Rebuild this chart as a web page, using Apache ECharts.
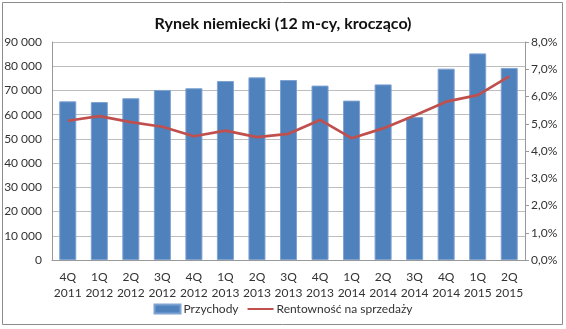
<!DOCTYPE html>
<html>
<head>
<meta charset="utf-8">
<script src="https://cdn.jsdelivr.net/npm/echarts@6/dist/echarts.min.js"></script>
<style>
  html, body { margin: 0; padding: 0; background: #fff; }
  #chart { width: 566px; height: 329px; }
</style>
</head>
<body>
<div id="chart"></div>
<script>
// Quarterly categories (two-line labels)
const categories = [
  '4Q\n2011', '1Q\n2012', '2Q\n2012', '3Q\n2012', '4Q\n2012',
  '1Q\n2013', '2Q\n2013', '3Q\n2013', '4Q\n2013', '1Q\n2014',
  '2Q\n2014', '3Q\n2014', '4Q\n2014', '1Q\n2015', '2Q\n2015'
];
// Revenue, rolling 12 months
const revenue = [
  65500, 65200, 66800, 70200, 70900,
  73900, 75400, 74300, 72000, 65800,
  72500, 59000, 79000, 85300, 79300
];
// Return on sales, %
const margin = [
  5.11, 5.28, 5.06, 4.89, 4.54,
  4.75, 4.51, 4.63, 5.14, 4.47,
  4.83, 5.30, 5.81, 6.05, 6.74
];
const seriesNames = ['Przychody', 'Rentowność na sprzedaży'];
const titleText = 'Rynek niemiecki (12 m-cy, krocząco)';

const font = 'Lato, "Open Sans", sans-serif';
const chart = echarts.init(document.getElementById('chart'));

const fmtThousands = v => String(v).replace(/\B(?=(\d{3})+(?!\d))/g, ' ');
const fmtPct = v => v.toFixed(1).replace('.', ',') + '%';

chart.setOption({
  animation: false,
  textStyle: { fontFamily: font },
  title: {
    text: titleText,
    left: 'center',
    top: 11,
    textStyle: { fontFamily: font, fontSize: 16, fontWeight: 'bold', color: '#111' }
  },
  graphic: [{
    type: 'rect',
    shape: { x: 2.5, y: 2.5, width: 560, height: 322 },
    style: { fill: 'none', stroke: '#8c8c8c', lineWidth: 1 },
    silent: true
  }],
  legend: {
    bottom: 9,
    left: 'center',
    itemGap: 8,
    itemWidth: 26,
    itemHeight: 9,
    textStyle: { fontFamily: font, fontSize: 12, color: '#333', padding: [0, 0, 0, -2] },
    data: [
      { name: seriesNames[0], icon: 'rect' },
      { name: seriesNames[1], itemStyle: { opacity: 0 } }
    ]
  },
  grid: { left: 52, right: 41, top: 42, bottom: 69 },
  xAxis: {
    type: 'category',
    data: categories,
    axisLine: { lineStyle: { color: '#999' } },
    axisTick: { show: false },
    axisLabel: { color: '#333', fontSize: 12, lineHeight: 16, margin: 9, interval: 0 }
  },
  yAxis: [{
    type: 'value',
    min: 0, max: 90000, interval: 10000,
    axisLine: { show: true, lineStyle: { color: '#999' } },
    axisTick: { show: false },
    splitLine: { lineStyle: { color: '#bdbdbd' } },
    axisLabel: { color: '#333', fontSize: 12, margin: 10, formatter: fmtThousands }
  }, {
    type: 'value',
    min: 0, max: 8, interval: 1,
    position: 'right',
    axisLine: { show: true, lineStyle: { color: '#999' } },
    axisTick: { show: true, length: 4, inside: false, lineStyle: { color: '#999' } },
    splitLine: { show: false },
    axisLabel: { color: '#333', fontSize: 12, margin: 6, formatter: fmtPct }
  }],
  series: [{
    name: seriesNames[0],
    type: 'bar',
    data: revenue,
    barCategoryGap: '46%',
    itemStyle: { color: '#4f81bd', borderColor: '#7ea3d2', borderWidth: 1 }
  }, {
    name: seriesNames[1],
    type: 'line',
    yAxisIndex: 1,
    data: margin,
    symbol: 'none',
    lineStyle: { color: '#c0504d', width: 2.7 },
    itemStyle: { color: '#c0504d' }
  }]
});
</script>
</body>
</html>
